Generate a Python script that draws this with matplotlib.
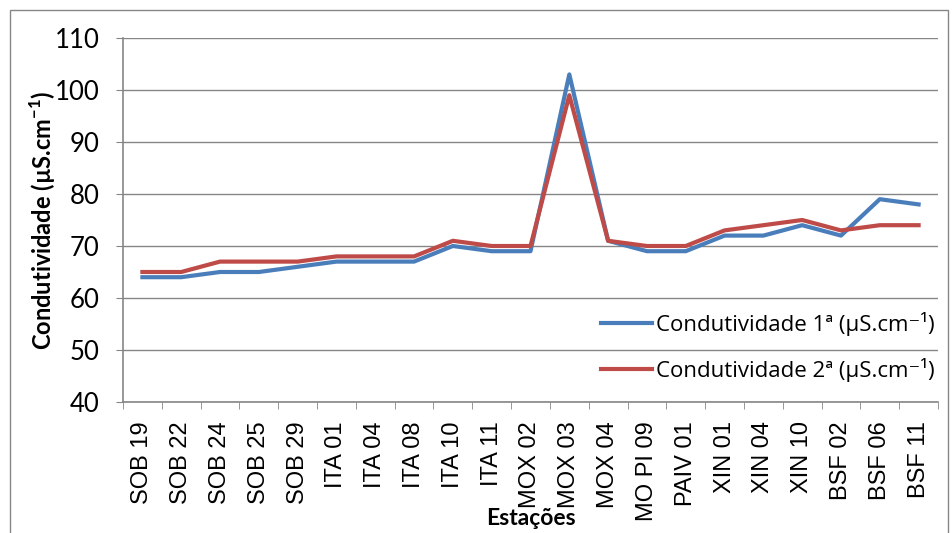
import matplotlib
matplotlib.use("Agg")
import matplotlib.pyplot as plt
import numpy as np
from matplotlib.patches import Rectangle

plt.rcParams['font.family'] = ['Lato', 'DejaVu Sans']

estacoes = ["SOB 19", "SOB 22", "SOB 24", "SOB 25", "SOB 29", "ITA 01", "ITA 04", "ITA 08",
            "ITA 10", "ITA 11", "MOX 02", "MOX 03", "MOX 04", "MO PI 09", "PAIV 01",
            "XIN 01", "XIN 04", "XIN 10", "BSF 02", "BSF 06", "BSF 11"]
cond_1 = [64, 64, 65, 65, 66, 67, 67, 67, 70, 69, 69, 103, 71, 69, 69, 72, 72, 74, 72, 79, 78]
cond_2 = [65, 65, 67, 67, 67, 68, 68, 68, 71, 70, 70, 99, 71, 70, 70, 73, 74, 75, 73, 74, 74]

grey = "#868686"

fig = plt.figure(figsize=(9.52, 5.33), dpi=100)
ax = fig.add_axes([123/952, 1-402/533, (938-123)/952, (402-38)/533])

x = np.arange(len(estacoes))
ax.plot(x, cond_1, color="#4A7EBB", lw=3, label="Condutividade 1ª (µS.cm\u207b\u00b9)", zorder=3)
ax.plot(x, cond_2, color="#BE4B48", lw=3, label="Condutividade 2ª (µS.cm\u207b\u00b9)", zorder=3)

ax.set_xlim(-0.5, len(estacoes)-0.5)
ax.set_ylim(40, 110)
ax.set_yticks(range(40, 111, 10))
ax.yaxis.grid(True, color=grey, lw=1)
ax.set_axisbelow(True)

ax.set_xticks(x)
ax.set_xticklabels(estacoes, rotation=90, fontsize=17,
                   family=['Liberation Sans Narrow', 'Liberation Sans'])
ax.set_xticks(np.arange(-0.5, len(estacoes)), minor=True)
ax.tick_params(axis='x', which='major', length=0, pad=14)
ax.tick_params(axis='x', which='minor', length=5, color=grey, direction='out')
ax.tick_params(axis='y', length=5, color=grey, labelsize=18.5, pad=12)

for s in ["top", "right"]:
    ax.spines[s].set_visible(False)
for s in ["left", "bottom"]:
    ax.spines[s].set_color(grey)
    ax.spines[s].set_linewidth(1.2)

ax.set_ylabel("Condutividade (µS.cm$^{\\mathregular{-1}}$)", fontsize=17, fontweight="bold")
ax.yaxis.set_label_coords(-0.08, 0.5)
ax.set_xlabel("Estações", fontsize=16.5, fontweight="bold")
ax.xaxis.set_label_coords(0.5, -0.29)

leg = ax.legend(loc="lower right", bbox_to_anchor=(1.02, 0.0), frameon=False,
                prop={'family': ['Open Sans', 'DejaVu Sans'], 'size': 16},
                handlelength=2.3, handletextpad=0.15, labelspacing=1.0)

fig.add_artist(Rectangle((10/952, -0.01), 938/952, 1-10/533+0.01, transform=fig.transFigure,
                         fill=False, edgecolor=grey, lw=1))

fig.savefig("out.png", dpi=100)
